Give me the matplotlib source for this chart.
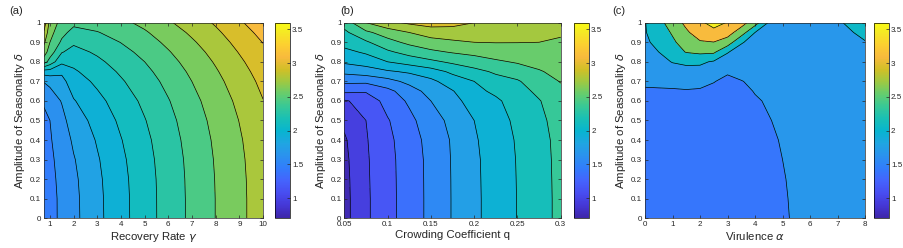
import numpy as np
import matplotlib
matplotlib.use('Agg')
import matplotlib.pyplot as plt
from matplotlib.colors import LinearSegmentedColormap, Normalize
from matplotlib.cm import ScalarMappable

plt.rcParams['font.family'] = ['Liberation Sans', 'DejaVu Sans']
plt.rcParams['mathtext.fontset'] = 'dejavusans'

# ---- panel (a): recovery rate vs amplitude of seasonality
gamma_a = [0.75, 1, 1.5, 2, 3, 4, 5, 6, 7, 8, 9, 10]
delta_a = [0, 0.1, 0.2, 0.3, 0.4, 0.5, 0.6, 0.7, 0.75, 0.8, 0.85, 0.9, 0.95, 1.0]
z_a = [
    [1.30, 1.37, 1.452, 1.545, 1.717, 1.874, 2.026, 2.171, 2.309, 2.443, 2.569, 2.700],
    [1.30, 1.37, 1.453, 1.547, 1.719, 1.875, 2.027, 2.171, 2.309, 2.443, 2.569, 2.700],
    [1.31, 1.38, 1.460, 1.557, 1.727, 1.882, 2.031, 2.174, 2.312, 2.446, 2.572, 2.703],
    [1.32, 1.39, 1.475, 1.578, 1.744, 1.897, 2.042, 2.182, 2.319, 2.453, 2.579, 2.709],
    [1.34, 1.405, 1.500, 1.616, 1.775, 1.923, 2.061, 2.198, 2.334, 2.466, 2.592, 2.722],
    [1.38, 1.42, 1.540, 1.671, 1.820, 1.961, 2.092, 2.223, 2.357, 2.488, 2.614, 2.744],
    [1.44, 1.50, 1.600, 1.748, 1.882, 2.013, 2.135, 2.261, 2.392, 2.520, 2.646, 2.776],
    [1.60, 1.63, 1.710, 1.848, 1.964, 2.082, 2.194, 2.314, 2.441, 2.565, 2.692, 2.820],
    [1.85, 1.86, 1.790, 1.907, 2.012, 2.123, 2.230, 2.347, 2.471, 2.594, 2.720, 2.848],
    [2.35, 2.20, 1.970, 1.973, 2.066, 2.169, 2.270, 2.385, 2.506, 2.626, 2.752, 2.879],
    [2.52, 2.36, 2.110, 2.046, 2.125, 2.219, 2.315, 2.428, 2.545, 2.662, 2.789, 2.915],
    [2.64, 2.44, 2.240, 2.126, 2.190, 2.274, 2.366, 2.476, 2.589, 2.703, 2.830, 2.955],
    [2.76, 2.50, 2.320, 2.214, 2.262, 2.334, 2.421, 2.529, 2.638, 2.749, 2.876, 3.000],
    [2.88, 2.55, 2.380, 2.310, 2.340, 2.400, 2.483, 2.589, 2.693, 2.800, 2.927, 3.050],
]
levels_a = [1.25, 1.42, 1.59, 1.76, 1.93, 2.10, 2.27, 2.44, 2.61, 2.78, 2.95, 3.12]
fill_a = [1.45, 1.615, 1.78, 1.945, 2.11, 2.275, 2.44, 2.605, 2.77, 2.935, 3.10]

# ---- panel (b): crowding coefficient
q_b = [0.05, 0.075, 0.1, 0.125, 0.15, 0.175, 0.2, 0.225, 0.25, 0.275, 0.3]
delta_b = [0, 0.1, 0.2, 0.3, 0.4, 0.5, 0.6, 0.65, 0.7, 0.75, 0.8, 0.85, 0.9, 0.95, 1.0]
z_b = [
    [0.85, 1.068, 1.229, 1.379, 1.529, 1.681, 1.821, 1.941, 2.055, 2.170, 2.286],
    [0.85, 1.068, 1.229, 1.379, 1.529, 1.681, 1.821, 1.941, 2.055, 2.170, 2.286],
    [0.855, 1.072, 1.231, 1.380, 1.530, 1.682, 1.823, 1.943, 2.057, 2.172, 2.288],
    [0.865, 1.076, 1.234, 1.383, 1.532, 1.684, 1.826, 1.945, 2.060, 2.175, 2.290],
    [0.885, 1.085, 1.245, 1.395, 1.545, 1.690, 1.838, 1.955, 2.068, 2.181, 2.295],
    [0.95, 1.10, 1.275, 1.43, 1.59, 1.72, 1.86, 1.975, 2.09, 2.20, 2.311],
    [1.08, 1.17, 1.36, 1.51, 1.67, 1.79, 1.955, 2.02, 2.13, 2.23, 2.35],
    [1.33, 1.31, 1.43, 1.58, 1.743, 1.85, 2.003, 2.085, 2.17, 2.281, 2.395],
    [1.52, 1.52, 1.60, 1.724, 1.816, 1.955, 2.05, 2.171, 2.22, 2.349, 2.438],
    [1.72, 1.77, 1.836, 1.887, 1.969, 2.088, 2.186, 2.267, 2.335, 2.416, 2.48],
    [1.89, 1.94, 2.05, 2.126, 2.198, 2.275, 2.335, 2.403, 2.448, 2.484, 2.529],
    [2.00, 2.077, 2.208, 2.309, 2.392, 2.445, 2.484, 2.519, 2.539, 2.552, 2.572],
    [2.12, 2.213, 2.367, 2.474, 2.547, 2.591, 2.62, 2.626, 2.624, 2.62, 2.603],
    [2.20, 2.392, 2.518, 2.62, 2.706, 2.721, 2.715, 2.688, 2.668, 2.655, 2.636],
    [2.32, 2.618, 2.76, 2.841, 2.89, 2.87, 2.81, 2.75, 2.711, 2.689, 2.67],
]
levels_b = [0.72, 0.91, 1.10, 1.29, 1.48, 1.67, 1.86, 2.05, 2.24, 2.43, 2.62, 2.81, 3.00, 3.19]
fill_b = [0.75, 0.95, 1.15, 1.35, 1.55, 1.75, 1.95, 2.15, 2.35, 2.55, 2.75, 2.95, 3.15]

# ---- panel (c): virulence
alpha_c = [0, 0.5, 1, 1.5, 2, 2.5, 3, 3.5, 4, 4.5, 5, 5.5, 6, 7, 8]
delta_c = [0, 0.1, 0.2, 0.3, 0.4, 0.5, 0.6, 0.65, 0.7, 0.75, 0.8, 0.85, 0.9, 0.95, 1.0]
z_c = [
    [1.08, 1.12, 1.16, 1.20, 1.24, 1.28, 1.32, 1.36, 1.40, 1.44, 1.48, 1.52, 1.56, 1.64, 1.72],
    [1.084, 1.124, 1.164, 1.204, 1.244, 1.284, 1.324, 1.364, 1.404, 1.444, 1.484, 1.524, 1.564, 1.644, 1.724],
    [1.09, 1.13, 1.17, 1.21, 1.25, 1.29, 1.33, 1.37, 1.41, 1.45, 1.49, 1.53, 1.57, 1.65, 1.73],
    [1.10, 1.14, 1.18, 1.22, 1.26, 1.30, 1.34, 1.38, 1.42, 1.46, 1.50, 1.54, 1.58, 1.66, 1.74],
    [1.112, 1.152, 1.192, 1.232, 1.272, 1.312, 1.352, 1.392, 1.432, 1.472, 1.512, 1.552, 1.592, 1.672, 1.752],
    [1.132, 1.172, 1.212, 1.252, 1.292, 1.332, 1.372, 1.412, 1.452, 1.492, 1.532, 1.572, 1.612, 1.692, 1.772],
    [1.16, 1.20, 1.24, 1.28, 1.32, 1.36, 1.40, 1.44, 1.48, 1.52, 1.56, 1.60, 1.64, 1.72, 1.80],
    [1.46, 1.465, 1.47, 1.48, 1.47, 1.44, 1.42, 1.45, 1.51, 1.56, 1.60, 1.64, 1.68, 1.76, 1.83],
    [1.56, 1.57, 1.58, 1.60, 1.58, 1.51, 1.44, 1.49, 1.55, 1.60, 1.64, 1.68, 1.72, 1.80, 1.87],
    [1.62, 1.65, 1.72, 1.80, 1.85, 1.75, 1.53, 1.58, 1.60, 1.64, 1.67, 1.71, 1.75, 1.83, 1.90],
    [1.68, 1.80, 2.03, 2.12, 2.08, 1.95, 1.78, 1.66, 1.64, 1.67, 1.70, 1.74, 1.78, 1.86, 1.93],
    [1.78, 2.00, 2.30, 2.52, 2.60, 2.58, 2.03, 1.78, 1.70, 1.71, 1.73, 1.76, 1.80, 1.88, 1.96],
    [1.88, 2.20, 2.42, 2.72, 2.95, 2.99, 2.78, 2.05, 1.80, 1.76, 1.76, 1.79, 1.83, 1.92, 1.99],
    [1.97, 2.25, 2.55, 2.92, 3.25, 3.40, 3.20, 2.75, 2.00, 1.85, 1.80, 1.81, 1.85, 1.93, 2.05],
    [1.98, 2.35, 2.73, 3.12, 3.44, 3.62, 3.48, 3.20, 2.72, 1.95, 1.85, 1.84, 1.87, 1.97, 2.12],
]
levels_c = [1.0, 1.5, 2.0, 2.5, 3.0, 3.5, 4.0]
fill_c = [1.40, 1.68, 2.05, 2.6, 3.1, 3.5]

cbar_ticks = [1, 1.5, 2, 2.5, 3, 3.5]
cbar_labels = ['1', '1.5', '2', '2.5', '3', '3.5']

# parula-like colormap
parula_pts = [
    (0, (0.2422, 0.1504, 0.6603)), (4, (0.2706, 0.2147, 0.8364)),
    (8, (0.2813, 0.3006, 0.9414)), (12, (0.2699, 0.3892, 0.9906)),
    (16, (0.1963, 0.4847, 0.9892)), (20, (0.1687, 0.5703, 0.9359)),
    (24, (0.1248, 0.6459, 0.8883)), (28, (0.0297, 0.7082, 0.8163)),
    (32, (0.0964, 0.7500, 0.7120)), (36, (0.2161, 0.7843, 0.5923)),
    (40, (0.3909, 0.8029, 0.4354)), (44, (0.6174, 0.7876, 0.2612)),
    (48, (0.8203, 0.7498, 0.1535)), (52, (0.9728, 0.7298, 0.2394)),
    (56, (0.9892, 0.8136, 0.1885)), (60, (0.9597, 0.9135, 0.1423)),
    (63, (0.9769, 0.9839, 0.0805)),
]
parula = LinearSegmentedColormap.from_list('parula', [(i / 63, c) for i, c in parula_pts])

txt = '#262626'
fig = plt.figure(figsize=(9.04, 2.48), dpi=100)


def panel(axrect, caxrect, x, y, z, levels, fills, xlim, xticks, xticklabels, xlabel, letter, lx):
    norm = Normalize(vmin=0.7, vmax=3.6)
    ax = fig.add_axes(axrect)
    X, Y = np.meshgrid(x, y)
    Z = np.array(z)
    ax.contourf(X, Y, Z, levels=levels, colors=[parula(norm(v)) for v in fills])
    ax.contour(X, Y, Z, levels=levels, colors='k', linewidths=0.5)
    ax.set_xlim(xlim)
    ax.set_ylim(0, 1)
    ax.set_xticks(xticks)
    ax.set_xticklabels(xticklabels)
    ax.set_yticks(np.arange(0, 1.01, 0.1))
    ax.set_yticklabels(['0', '0.1', '0.2', '0.3', '0.4', '0.5', '0.6', '0.7', '0.8', '0.9', '1'])
    ax.tick_params(direction='in', length=2.5, width=0.5, labelsize=5.8, colors=txt,
                   top=True, right=True, pad=2)
    for s in ax.spines.values():
        s.set_linewidth(0.5)
        s.set_color(txt)
    ax.set_xlabel(xlabel, fontsize=8.2, color=txt, labelpad=1.5)
    ax.set_ylabel(r'Amplitude of Seasonality $\delta$', fontsize=8.2, color=txt, labelpad=2)
    fig.text(lx, 0.955, letter, fontsize=8, color=txt, ha='left', va='center')

    cax = fig.add_axes(caxrect)
    cb = fig.colorbar(ScalarMappable(norm=norm, cmap=parula), cax=cax)
    cb.set_ticks(cbar_ticks)
    cb.set_ticklabels(cbar_labels)
    cb.outline.set_linewidth(0.5)
    cax.tick_params(direction='in', length=2, width=0.5, labelsize=5.8, colors=txt, pad=1.5)
    return ax


panel([0.0487, 0.1198, 0.2423, 0.7887], [0.3042, 0.1198, 0.0166, 0.7887],
      gamma_a, delta_a, z_a, levels_a, fill_a, (0.75, 10), list(range(1, 11)),
      [str(i) for i in range(1, 11)], r'Recovery Rate $\gamma$', '(a)', 0.010)

panel([0.3809, 0.1198, 0.2394, 0.7887], [0.6350, 0.1198, 0.0166, 0.7887],
      q_b, delta_b, z_b, levels_b, fill_b, (0.05, 0.3), [0.05, 0.1, 0.15, 0.2, 0.25, 0.3],
      ['0.05', '0.1', '0.15', '0.2', '0.25', '0.3'], 'Crowding Coefficient q', '(b)', 0.376)

panel([0.7135, 0.1198, 0.2434, 0.7887], [0.9668, 0.1198, 0.0166, 0.7887],
      alpha_c, delta_c, z_c, levels_c, fill_c, (0, 8), list(range(0, 9)),
      [str(i) for i in range(0, 9)], r'Virulence $\alpha$', '(c)', 0.677)

fig.savefig('out.png', dpi=100)
